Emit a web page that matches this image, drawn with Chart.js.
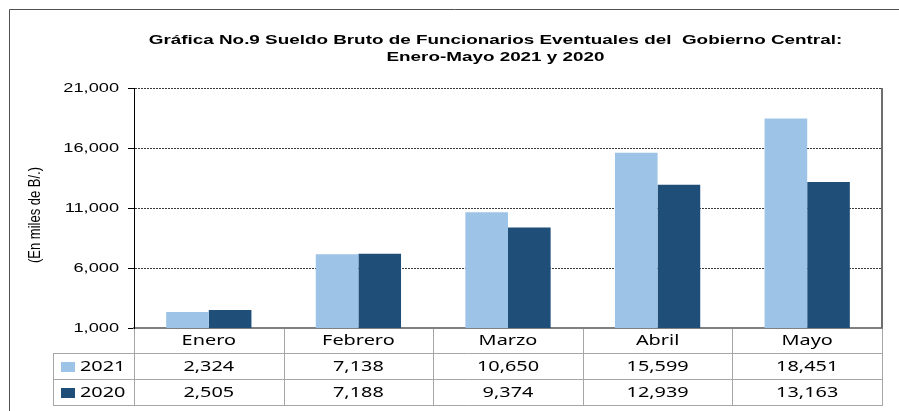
<!DOCTYPE html>
<html>
<head>
<meta charset="utf-8">
<script src="https://cdn.jsdelivr.net/npm/chart.js@4.4.0/dist/chart.umd.min.js"></script>
<style>
    html, body { margin: 0; padding: 0; background: #fff; }
    #chart { display: block; }
</style>
</head>
<body>
<canvas id="chart" width="899" height="411"></canvas>
<script>
const months = ['Enero', 'Febrero', 'Marzo', 'Abril', 'Mayo'];
const series2021 = [2324, 7138, 10650, 15599, 18451];
const series2020 = [2505, 7188, 9374, 12939, 13163];
const seriesNames = ['2021', '2020'];
const seriesColors = ['#9DC3E6', '#1F4E79'];
const yTicks = [1000, 6000, 11000, 16000, 21000];
const titleLines = ['Gráfica No.9 Sueldo Bruto de Funcionarios Eventuales del  Gobierno Central:', 'Enero-Mayo 2021 y 2020'];
const yTitle = '(En miles de B/.)';

const fmt = v => v.toLocaleString('en-US');

// the source picture is stretched sideways, so text gets a horizontal scale
function wideText(ctx, text, x, y, sx, align) {
    ctx.save();
    ctx.translate(x, y);
    ctx.scale(sx, 1);
    ctx.textAlign = align;
    ctx.fillText(text, 0, 0);
    ctx.restore();
}

function hLine(ctx, x1, x2, y) {
    ctx.beginPath();
    ctx.moveTo(x1, y);
    ctx.lineTo(x2, y);
    ctx.stroke();
}

function vLine(ctx, x, y1, y2) {
    ctx.beginPath();
    ctx.moveTo(x, y1);
    ctx.lineTo(x, y2);
    ctx.stroke();
}

const tablePlugin = {
    id: 'tablePlugin',
    beforeDraw(chart) {
        const ctx = chart.ctx;
        ctx.save();
        ctx.fillStyle = '#fff';
        ctx.fillRect(0, 0, chart.width, chart.height);
        // outer frame
        ctx.strokeStyle = '#505050';
        ctx.lineWidth = 1;
        hLine(ctx, 9.5, chart.width, 9.5);
        vLine(ctx, 9.5, 9.5, chart.height);
        ctx.restore();
    },
    afterDraw(chart) {
        const ctx = chart.ctx;
        const area = chart.chartArea;
        const x = chart.scales.x;
        const y = chart.scales.y;
        ctx.save();

        // title
        ctx.fillStyle = '#000';
        ctx.font = 'bold 13px "Liberation Sans", Arial, sans-serif';
        ctx.textBaseline = 'alphabetic';
        wideText(ctx, titleLines[0], 495.5, 44, 1.45, 'center');
        wideText(ctx, titleLines[1], 495.5, 61, 1.45, 'center');

        // y tick labels
        ctx.font = '13px "Liberation Sans", Arial, sans-serif';
        ctx.textBaseline = 'middle';
        ctx.fillStyle = '#000';
        y.ticks.forEach(t => {
            wideText(ctx, fmt(t.value), area.left - 15, y.getPixelForValue(t.value), 1.4, 'right');
        });

        // y title
        ctx.save();
        ctx.translate(35, 215);
        ctx.rotate(-Math.PI / 2);
        ctx.scale(1, 1.3);
        ctx.font = '13px "Liberation Sans", Arial, sans-serif';
        ctx.textAlign = 'center';
        ctx.textBaseline = 'middle';
        ctx.fillText(yTitle, 0, 0);
        ctx.restore();

        // right plot border
        ctx.strokeStyle = '#6e6e6e';
        ctx.lineWidth = 2;
        vLine(ctx, area.right, area.top, area.bottom);

        // data table
        const rowH = 26;
        const top = area.bottom;
        const legLeft = 53.5;
        const colW = (area.right - area.left) / months.length;
        ctx.strokeStyle = '#a6a6a6';
        ctx.lineWidth = 1;
        for (let r = 1; r <= 3; r++) {
            hLine(ctx, legLeft, area.right, Math.round(top + r * rowH - 1) + 0.5);
        }
        vLine(ctx, legLeft, top + rowH - 1, top + 3 * rowH);
        for (let i = 0; i <= months.length; i++) {
            vLine(ctx, Math.round(area.left + i * colW) + 0.5, top + 1, top + 3 * rowH);
        }

        ctx.font = '14px "Noto Sans", sans-serif';
        ctx.textBaseline = 'middle';
        ctx.fillStyle = '#000';
        const rows = [series2021, series2020];
        months.forEach((m, i) => {
            const cx = x.getPixelForValue(i);
            wideText(ctx, m, cx, top + 13, 1.42, 'center');
            rows.forEach((vals, r) => {
                wideText(ctx, fmt(vals[i]), cx, top + rowH * (r + 1) + 13, 1.42, 'center');
            });
        });
        seriesNames.forEach((name, r) => {
            const cy = top + rowH * (r + 1) + 13;
            ctx.fillStyle = seriesColors[r];
            ctx.fillRect(61, cy - 5, 14, 10);
            ctx.fillStyle = '#000';
            wideText(ctx, name, 80, cy, 1.42, 'left');
        });

        ctx.restore();
    }
};

const ctx = document.getElementById('chart').getContext('2d');
const chart = new Chart(ctx, {
    type: 'bar',
    data: {
        labels: months,
        datasets: [{
            label: seriesNames[0],
            data: series2021,
            backgroundColor: seriesColors[0]
        }, {
            label: seriesNames[1],
            data: series2020,
            backgroundColor: seriesColors[1]
        }]
    },
    options: {
        responsive: false,
        animation: false,
        devicePixelRatio: 1,
        layout: {
            padding: { left: 0, top: 88, right: 17, bottom: 83 }
        },
        datasets: {
            bar: { barPercentage: 1, categoryPercentage: 0.57 }
        },
        plugins: {
            legend: { display: false },
            title: { display: false },
            tooltip: { enabled: false }
        },
        scales: {
            x: {
                offset: true,
                grid: { display: false },
                ticks: { display: false },
                border: { display: true, color: '#808080', width: 2 },
                afterFit: s => { s.height = 0; }
            },
            y: {
                min: 1000,
                max: 21000,
                afterBuildTicks: s => { s.ticks = yTicks.map(v => ({ value: v })); },
                afterFit: s => { s.width = 134; },
                ticks: { display: false },
                grid: {
                    color: '#3a3a3a',
                    lineWidth: 1,
                    tickLength: 6,
                    tickColor: '#000',
                    tickBorderDash: []
                },
                border: { display: true, color: '#000', width: 1, dash: [2, 1] }
            }
        }
    },
    plugins: [tablePlugin]
});
</script>
</body>
</html>
